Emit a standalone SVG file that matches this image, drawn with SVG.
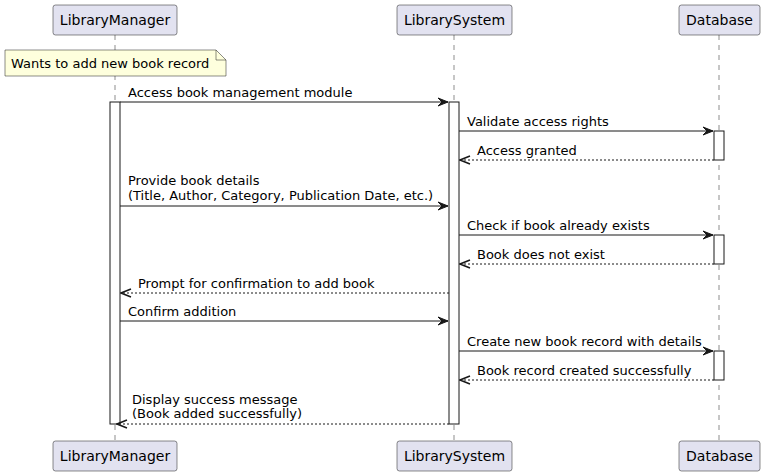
<svg xmlns="http://www.w3.org/2000/svg" width="764" height="476" viewBox="0 0 764 476">
<style>
text{font-family:"DejaVu Sans",sans-serif;fill:#000}
.pt{font-size:14px;text-anchor:middle}
.m{font-size:13px}
.box{fill:#E2E2F0;stroke:#181818;stroke-width:0.5}
.life{stroke:#181818;stroke-width:0.5;stroke-dasharray:5,5;fill:none}
.act{fill:#FFFFFF;stroke:#181818;stroke-width:1}
.msg{stroke:#181818;stroke-width:1;fill:none}
.ret{stroke:#181818;stroke-width:1;fill:none;stroke-dasharray:2,2}
.ah{fill:#181818;stroke:#181818;stroke-width:1}
</style>
<defs>
<marker id="arr" markerWidth="12" markerHeight="10" viewBox="-11 -5 12 10" refX="0" refY="0" orient="auto" markerUnits="userSpaceOnUse">
<polygon points="-10,-4 0,0 -10,4 -6,0" class="ah"/>
</marker>
<marker id="open" markerWidth="12" markerHeight="10" viewBox="-11 -5 12 10" refX="0" refY="0" orient="auto" markerUnits="userSpaceOnUse">
<polyline points="-10,-4 0,0 -10,4" fill="none" stroke="#181818" stroke-width="1.5"/>
</marker>
</defs>
<g id="lifelines">
<line class="life" x1="115" y1="35" x2="115" y2="441"/>
<line class="life" x1="454" y1="35" x2="454" y2="441"/>
<line class="life" x1="719" y1="35" x2="719" y2="441"/>
</g>
<g id="LibraryManager">
<rect class="box" x="53" y="5" width="124" height="30" rx="2.5"/>
<text class="pt" x="115" y="25">LibraryManager</text>
<rect class="box" x="53" y="441" width="124" height="30" rx="2.5"/>
<text class="pt" x="115" y="461">LibraryManager</text>
</g>
<g id="LibrarySystem">
<rect class="box" x="397" y="5" width="115" height="30" rx="2.5"/>
<text class="pt" x="454.5" y="25">LibrarySystem</text>
<rect class="box" x="397" y="441" width="115" height="30" rx="2.5"/>
<text class="pt" x="454.5" y="461">LibrarySystem</text>
</g>
<g id="Database">
<rect class="box" x="679" y="5" width="81" height="30" rx="2.5"/>
<text class="pt" x="719.5" y="25">Database</text>
<rect class="box" x="679" y="441" width="81" height="30" rx="2.5"/>
<text class="pt" x="719.5" y="461">Database</text>
</g>
<g id="note">
<path d="M5,50 L216,50 L226,60 L226,76 L5,76 Z" fill="#FEFFDD" stroke="#181818" stroke-width="0.5"/>
<path d="M216,50 L216,60 L226,60" fill="none" stroke="#181818" stroke-width="0.5"/>
<text class="m" x="11" y="68">Wants to add new book record</text>
</g>
<g id="activations">
<rect class="act" x="110" y="102" width="10" height="322"/>
<rect class="act" x="449" y="102" width="10" height="322"/>
<rect class="act" x="714" y="131" width="10" height="29"/>
<rect class="act" x="714" y="235" width="10" height="29"/>
<rect class="act" x="714" y="351" width="10" height="29"/>
</g>
<g id="connectors">
<line class="msg" x1="120" y1="102" x2="448" y2="102" marker-end="url(#arr)"/>
<text class="m" x="128" y="97">Access book management module</text>
<line class="msg" x1="459" y1="131" x2="713" y2="131" marker-end="url(#arr)"/>
<text class="m" x="467" y="126">Validate access rights</text>
<line class="ret" x1="714" y1="160" x2="460" y2="160" marker-end="url(#open)"/>
<text class="m" x="477" y="155">Access granted</text>
<line class="msg" x1="120" y1="206" x2="448" y2="206" marker-end="url(#arr)"/>
<text class="m" x="128" y="185">Provide book details</text>
<text class="m" x="128" y="200">(Title, Author, Category, Publication Date, etc.)</text>
<line class="msg" x1="459" y1="235" x2="713" y2="235" marker-end="url(#arr)"/>
<text class="m" x="467" y="230">Check if book already exists</text>
<line class="ret" x1="714" y1="264" x2="460" y2="264" marker-end="url(#open)"/>
<text class="m" x="477" y="259">Book does not exist</text>
<line class="ret" x1="449" y1="293" x2="121" y2="293" marker-end="url(#open)"/>
<text class="m" x="138" y="288">Prompt for confirmation to add book</text>
<line class="msg" x1="120" y1="321" x2="448" y2="321" marker-end="url(#arr)"/>
<text class="m" x="128" y="316">Confirm addition</text>
<line class="msg" x1="459" y1="351" x2="713" y2="351" marker-end="url(#arr)"/>
<text class="m" x="467" y="346">Create new book record with details</text>
<line class="ret" x1="714" y1="380" x2="460" y2="380" marker-end="url(#open)"/>
<text class="m" x="477" y="375">Book record created successfully</text>
<line class="ret" x1="449" y1="424" x2="117" y2="424" marker-end="url(#open)"/>
<text class="m" x="132" y="404">Display success message</text>
<text class="m" x="132" y="418">(Book added successfully)</text>
</g>
</svg>
